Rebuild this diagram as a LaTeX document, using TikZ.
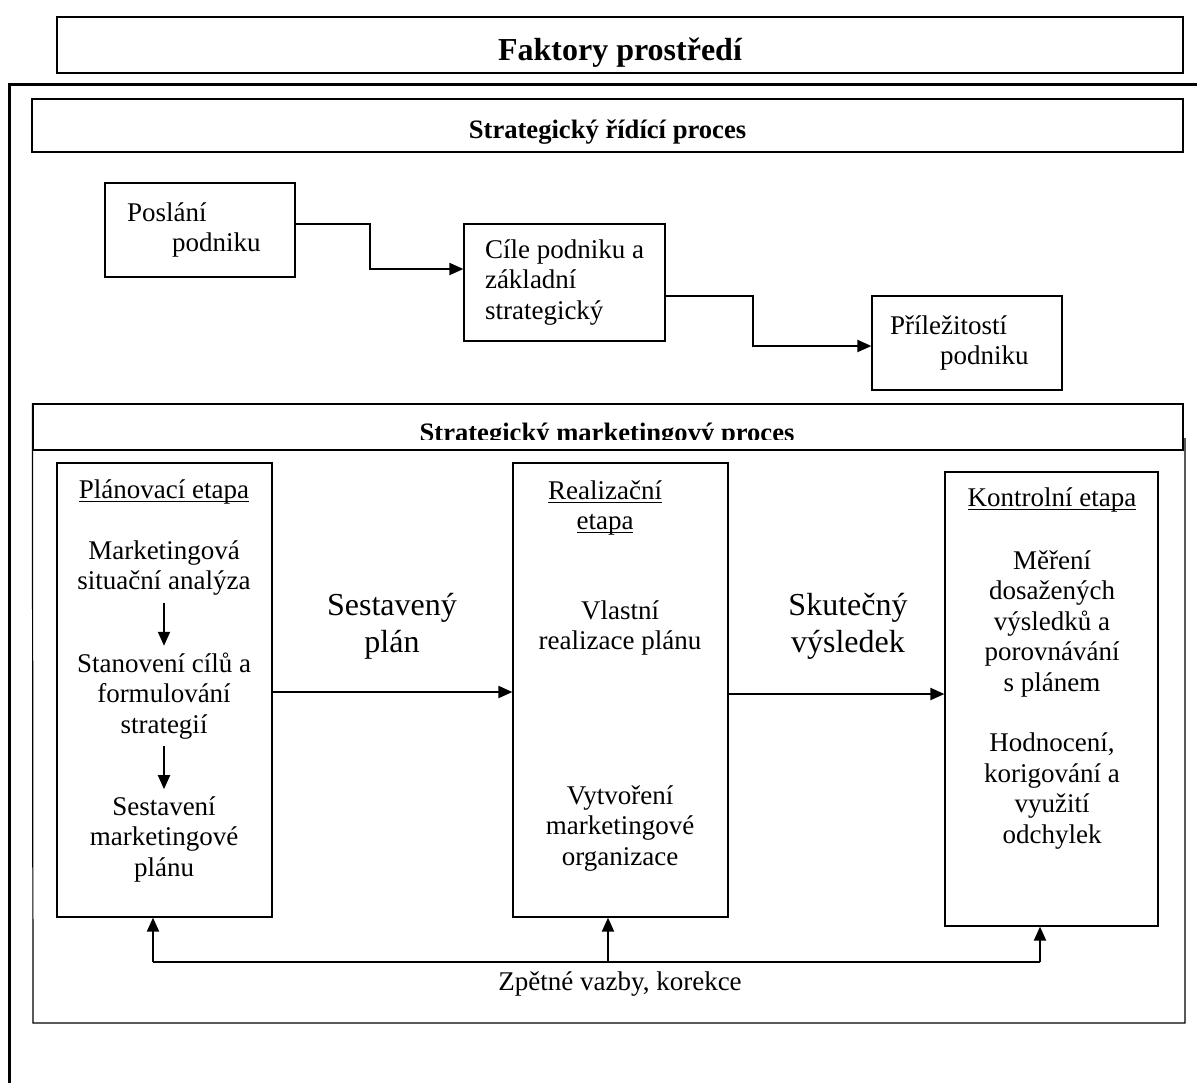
\documentclass[tikz,border=0pt]{standalone}
\usepackage{fontspec}
\setmainfont{Liberation Serif}
\usetikzlibrary{arrows.meta, positioning}

\newcommand{\stageul}[1]{\underline{\smash{#1}}\vphantom{#1}}

\begin{document}
\begin{tikzpicture}[
    x=0.5pt, y=-0.5pt,
    border/.style={line width=0.6pt},
    box/.style={rectangle, draw, border},
    txt/.style={align=center, font=\fontsize{13.5}{15.25}\selectfont},
    big/.style={align=center, font=\fontsize{16}{18.5}\selectfont},
    head/.style={font=\fontsize{13.3}{15}\selectfont\bfseries},
    arrow/.style={-{Triangle[length=7pt, width=6pt]}, line width=1pt},
    frame/.style={line width=1.5pt}
]
\useasboundingbox (0,0) rectangle (1197,1083);

% top part
\node[box, minimum width=563pt, minimum height=28pt, inner sep=0pt, text height=19.6pt, text depth=4pt, font=\fontsize{16}{18}\selectfont\bfseries] (env) at (620,45) {Faktory prostředí};
\draw[frame] (9,1083) -- (9,84) -- (1197,84);
\node[box, head, minimum width=575.5pt, minimum height=26.5pt, inner sep=0pt, text height=16.4pt, text depth=3pt] (srp) at (607.5,125.5) {Strategický řídící proces};

\node[box, txt, align=left, minimum width=95pt, minimum height=47pt, text width=73pt] (mission) at (200,230) {Poslání\\\hspace*{22.5pt}podniku};
\node[box, txt, align=left, minimum width=100.5pt, minimum height=58.5pt] (goals0) at (564.5,282.5) {Cíle podniku a\\základní\\strategický};
\node[box, txt, align=left, minimum width=95pt, minimum height=47pt, text width=77pt] (chance) at (967,343) {Příležitostí\\\hspace*{25pt}podniku};

\coordinate (bend1) at (370,269);
\coordinate (bend2) at (753,346);
\draw[arrow] ([yshift=3pt]mission.east) -| (bend1) -- (bend1 -| goals0.west);
\draw[arrow] ([yshift=-6.75pt]goals0.east) -| (bend2) -- (bend2 -| chance.west);

% marketing process
\node[box, minimum width=575pt, minimum height=23pt] (smp) at (608,427) {};
\begin{scope}
  \clip (33,404) rectangle (1183,439);
  \node[head, anchor=base] (smptitle) at (607,441) {Strategický marketingový proces};
\end{scope}
\draw[border] (smp.north west) -- (33,1023) -- (1185,1023) -- (1185,438);

\node[box, minimum width=107.5pt, minimum height=227pt] (plan) at (164.5,690) {};
\node[box, minimum width=107.5pt, minimum height=227pt] (real) at (620.5,690) {};
\node[box, minimum width=106.5pt, minimum height=227pt] (kontr) at (1051.5,699) {};

\node[txt] (planhead) at (164,492) {\stageul{Plánovací etapa}};
\node[txt] (analysis) at (164,568) {Marketingová\\situační analýza};
\node[txt] (goals) at (164,696) {Stanovení cílů a\\formulování\\strategií};
\node[txt] (planmake) at (164,839) {Sestavení\\marketingové\\plánu};
\draw[arrow] (analysis) -- (goals);
\draw[arrow] (goals) -- (planmake);

\node[txt] (realhead) at (605,508) {\stageul{Realizační}\\\stageul{etapa}};
\node[txt] (ownreal) at (620,628) {Vlastní\\realizace plánu};
\node[txt] (org) at (620,828) {Vytvoření\\marketingové\\organizace};

\node[txt] (kontrhead) at (1052,500) {\stageul{Kontrolní etapa}};
\node[txt] (measure) at (1052,623.5) {Měření\\dosažených\\výsledků a\\porovnávání\\s plánem};
\node[txt] (evaluate) at (1052,791) {Hodnocení,\\korigování a\\využití\\odchylek};

\node[big] (planlabel) at (392,626.5) {Sestavený\\plán};
\node[big] (resultlabel) at (848,626.5) {Skutečný\\výsledek};
\draw[arrow] ([yshift=-1pt]plan.east) -- ([yshift=-1pt]real.west);
\draw[arrow] ([yshift=-2pt]real.east) -- ([yshift=-2pt]real.east -| kontr.west);

% feedback
\coordinate (fbleft) at (153,962);
\coordinate (fbmid) at (608,962);
\coordinate (fbright) at (1040,962);
\draw[line width=1pt] (fbleft) -- (fbright);
\draw[arrow] (fbleft) -- (fbleft |- plan.south);
\draw[arrow] (fbmid) -- (fbmid |- real.south);
\draw[arrow] (fbright) -- (fbright |- kontr.south);
\node[txt] (fblabel) at (620,984) {Zpětné vazby, korekce};

\end{tikzpicture}
\end{document}
